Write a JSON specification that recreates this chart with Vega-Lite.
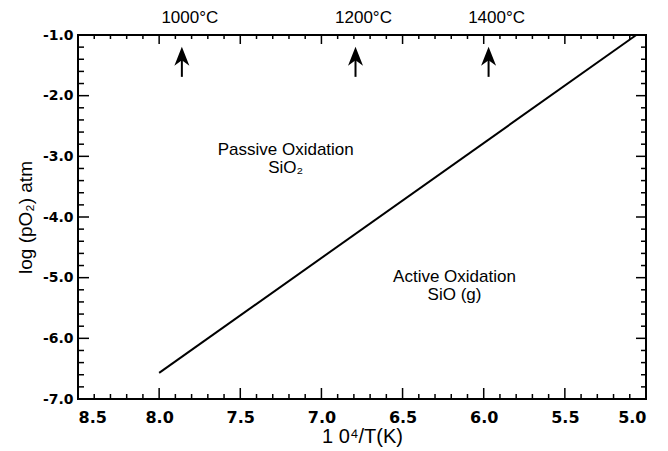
{
  "$schema": "https://vega.github.io/schema/vega-lite/v6.json",
  "width": 568,
  "height": 364,
  "autosize": "none",
  "padding": {"left": 78, "top": 35, "right": 22, "bottom": 52},
  "background": "white",
  "config": {
    "view": {"stroke": "black", "strokeWidth": 2},
    "axis": {"domain": false, "grid": false, "ticks": false, "labelColor": "black", "titleColor": "black", "labelFont": "DejaVu Sans", "titleFont": "Liberation Sans"}
  },
  "datasets": {
    "line": [{"x": 8.0, "y": -6.57}, {"x": 5.06, "y": -1.0}],
    "arrows": [{"t": "1000°C", "x": 7.86}, {"t": "1200°C", "x": 6.79}, {"t": "1400°C", "x": 5.97}],
    "regions": [
      {"t": "Passive Oxidation", "x": 7.22, "y": -2.9},
      {"t": "SiO₂", "x": 7.22, "y": -3.2},
      {"t": "Active Oxidation", "x": 6.18, "y": -4.99},
      {"t": "SiO (g)", "x": 6.18, "y": -5.29}
    ],
    "xmajor": [{"v": 8.5}, {"v": 8.0}, {"v": 7.5}, {"v": 7.0}, {"v": 6.5}, {"v": 6.0}, {"v": 5.5}, {"v": 5.0}],
    "xminor": [{"v": 8.4}, {"v": 8.3}, {"v": 8.2}, {"v": 8.1}, {"v": 7.9}, {"v": 7.8}, {"v": 7.7}, {"v": 7.6}, {"v": 7.4}, {"v": 7.3}, {"v": 7.2}, {"v": 7.1}, {"v": 6.9}, {"v": 6.8}, {"v": 6.7}, {"v": 6.6}, {"v": 6.4}, {"v": 6.3}, {"v": 6.2}, {"v": 6.1}, {"v": 5.9}, {"v": 5.8}, {"v": 5.7}, {"v": 5.6}, {"v": 5.4}, {"v": 5.3}, {"v": 5.2}, {"v": 5.1}],
    "ymajor": [{"v": -7}, {"v": -6}, {"v": -5}, {"v": -4}, {"v": -3}, {"v": -2}, {"v": -1}],
    "yminor": [{"v": -6.8}, {"v": -6.6}, {"v": -6.4}, {"v": -6.2}, {"v": -5.8}, {"v": -5.6}, {"v": -5.4}, {"v": -5.2}, {"v": -4.8}, {"v": -4.6}, {"v": -4.4}, {"v": -4.2}, {"v": -3.8}, {"v": -3.6}, {"v": -3.4}, {"v": -3.2}, {"v": -2.8}, {"v": -2.6}, {"v": -2.4}, {"v": -2.2}, {"v": -1.8}, {"v": -1.6}, {"v": -1.4}, {"v": -1.2}]
  },
  "layer": [
    {
      "data": {"name": "line"},
      "mark": {"type": "line", "color": "black", "strokeWidth": 2},
      "encoding": {
        "x": {"field": "x", "type": "quantitative", "scale": {"domain": [5.0, 8.5], "reverse": true, "nice": false, "zero": false},
          "axis": {"orient": "bottom", "values": [8.5, 8.0, 7.5, 7.0, 6.5, 6.0, 5.5, 5.0], "format": ".1f", "labelFontSize": 16, "labelFontWeight": "bold", "labelPadding": 10, "title": "1 0⁴/T(K)", "titleFontSize": 20, "titleFontWeight": "normal", "titlePadding": 1}},
        "y": {"field": "y", "type": "quantitative", "scale": {"domain": [-7.0, -1.0], "nice": false, "zero": false},
          "axis": {"orient": "left", "values": [-7, -6, -5, -4, -3, -2, -1], "format": ".1f", "labelExpr": "replace(datum.label, '−', '-')", "labelFontSize": 14, "labelFontWeight": "bold", "labelPadding": 5, "title": "log (pO₂) atm", "titleFontSize": 19, "titleFontWeight": "normal", "titlePadding": 7}}
      }
    },
    {
      "data": {"name": "xmajor"},
      "mark": {"type": "tick", "orient": "vertical", "color": "black", "size": 22, "thickness": 1.5, "opacity": 1, "clip": true},
      "encoding": {"x": {"field": "v", "type": "quantitative"}, "y": {"datum": -7, "type": "quantitative"}}
    },
    {
      "data": {"name": "xmajor"},
      "mark": {"type": "tick", "orient": "vertical", "color": "black", "size": 18, "thickness": 1.5, "opacity": 1, "clip": true},
      "encoding": {"x": {"field": "v", "type": "quantitative"}, "y": {"datum": -1, "type": "quantitative"}}
    },
    {
      "data": {"name": "xminor"},
      "mark": {"type": "tick", "orient": "vertical", "color": "black", "size": 10, "thickness": 1.5, "opacity": 1, "clip": true},
      "encoding": {"x": {"field": "v", "type": "quantitative"}, "y": {"datum": -7, "type": "quantitative"}}
    },
    {
      "data": {"name": "xminor"},
      "mark": {"type": "tick", "orient": "vertical", "color": "black", "size": 8, "thickness": 1.5, "opacity": 1, "clip": true},
      "encoding": {"x": {"field": "v", "type": "quantitative"}, "y": {"datum": -1, "type": "quantitative"}}
    },
    {
      "data": {"name": "ymajor"},
      "mark": {"type": "tick", "orient": "horizontal", "color": "black", "size": 22, "thickness": 1.5, "opacity": 1, "clip": true},
      "encoding": {"y": {"field": "v", "type": "quantitative"}, "x": {"datum": 8.5, "type": "quantitative"}}
    },
    {
      "data": {"name": "ymajor"},
      "mark": {"type": "tick", "orient": "horizontal", "color": "black", "size": 20, "thickness": 1.5, "opacity": 1, "clip": true},
      "encoding": {"y": {"field": "v", "type": "quantitative"}, "x": {"datum": 5.0, "type": "quantitative"}}
    },
    {
      "data": {"name": "yminor"},
      "mark": {"type": "tick", "orient": "horizontal", "color": "black", "size": 12, "thickness": 1.5, "opacity": 1, "clip": true},
      "encoding": {"y": {"field": "v", "type": "quantitative"}, "x": {"datum": 8.5, "type": "quantitative"}}
    },
    {
      "data": {"name": "yminor"},
      "mark": {"type": "tick", "orient": "horizontal", "color": "black", "size": 10, "thickness": 1.5, "opacity": 1, "clip": true},
      "encoding": {"y": {"field": "v", "type": "quantitative"}, "x": {"datum": 5.0, "type": "quantitative"}}
    },
    {
      "data": {"name": "arrows"},
      "mark": {"type": "rule", "color": "black", "strokeWidth": 2},
      "encoding": {
        "x": {"field": "x", "type": "quantitative"},
        "y": {"datum": -1.35, "type": "quantitative"},
        "y2": {"datum": -1.69}
      }
    },
    {
      "data": {"name": "arrows"},
      "mark": {"type": "point", "shape": "M0,-1 L0.75,0.9 L0,0.35 L-0.75,0.9 Z", "size": 400, "filled": true, "color": "black", "opacity": 1},
      "encoding": {
        "x": {"field": "x", "type": "quantitative"},
        "y": {"datum": -1.36, "type": "quantitative"}
      }
    },
    {
      "data": {"name": "arrows"},
      "mark": {"type": "text", "font": "Liberation Sans", "fontSize": 17, "color": "black", "dx": 8, "clip": false, "baseline": "middle"},
      "encoding": {
        "x": {"field": "x", "type": "quantitative"},
        "y": {"datum": -0.72, "type": "quantitative"},
        "text": {"field": "t"}
      }
    },
    {
      "data": {"name": "regions"},
      "mark": {"type": "text", "font": "Liberation Sans", "fontSize": 17, "color": "black", "baseline": "middle"},
      "encoding": {
        "x": {"field": "x", "type": "quantitative"},
        "y": {"field": "y", "type": "quantitative"},
        "text": {"field": "t"}
      }
    }
  ]
}
